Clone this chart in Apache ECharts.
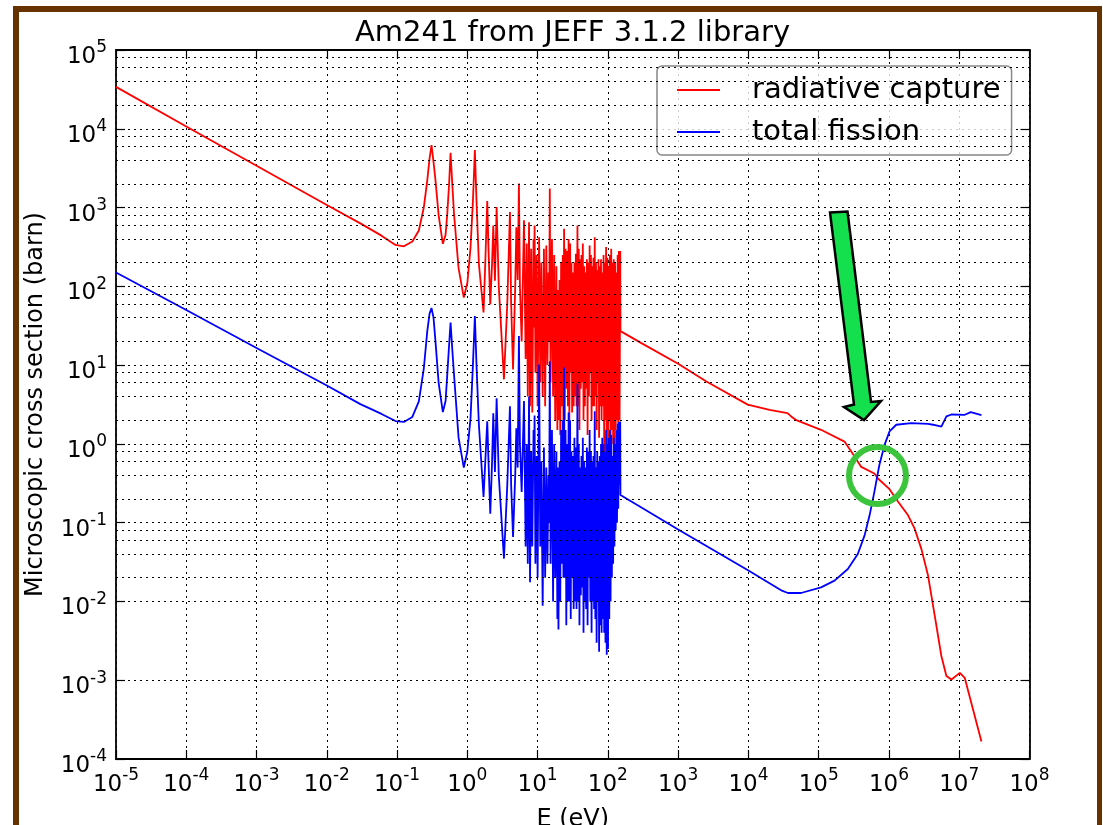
<!DOCTYPE html>
<html>
<head>
<meta charset="utf-8">
<title>Am241 from JEFF 3.1.2 library</title>
<script src="https://cdn.jsdelivr.net/npm/echarts@6/dist/echarts.min.js"></script>
<style>
    html, body { margin: 0; padding: 0; background: #fff; }
    #chart { width: 1103px; height: 825px; }
</style>
</head>
<body>
<div id="chart"></div>
<script>
// thermal region, energies in eV, shared by both reactions
var lowE = [1e-5, 1e-4, 1e-3, 1e-2, 0.03, 0.06, 0.095, 0.125, 0.165, 0.204, 0.24, 0.269, 0.29, 0.309, 0.33, 0.352,
    0.39, 0.448, 0.49, 0.518, 0.55, 0.577, 0.61, 0.646, 0.75, 0.89, 1.0, 1.11, 1.2, 1.28, 1.35, 1.46, 1.7, 1.8, 1.92,
    2.0, 2.12, 2.25, 2.34, 2.47, 2.61, 2.8, 3.32, 3.7, 4.04, 4.2, 4.47, 4.8, 4.98, 5.2, 5.42, 5.6, 5.93];
var captureLow = [34000, 10700, 3400, 1080, 630, 440, 335, 322, 370, 512, 1000, 2220, 4200, 6200, 3800, 2220,
    800, 347, 450, 835, 2000, 4970, 2000, 835, 170, 72, 110, 313, 1200, 5370, 1200, 192, 46.5, 200, 1210,
    300, 59, 200, 593, 118, 1015, 100, 6.6, 60, 877, 60, 8.8, 100, 564, 120, 2020, 100, 20];
var fissionLow = [150, 50, 16.5, 5.5, 3.2, 2.4, 1.95, 1.9, 2.2, 3.47, 9, 27, 45, 53, 40, 20,
    6, 2.53, 3.5, 7.6, 18, 34.6, 16, 7.6, 1.2, 0.5, 0.8, 2.12, 10, 42, 10, 1.75, 0.212, 0.6, 1.93,
    0.6, 0.13, 0.6, 2.45, 0.44, 3.8, 0.4, 0.035, 0.3, 3.0, 0.3, 0.066, 0.4, 1.58, 0.5, 23.4, 1.0, 0.246];

// resolved resonance region (dense), shared energies
var resE = [6.4, 6.75, 7.0, 7.25, 7.55, 7.8, 8.1, 8.4, 8.75, 8.9, 9.05, 9.3, 9.7, 10.0, 10.5, 10.9, 11.3, 11.8,
    12.3, 12.8, 13.3, 13.8, 14.3, 14.6, 14.9, 15.3, 16.0, 16.6, 17.2, 17.8, 18.5, 19.1, 19.5, 19.8, 20.5, 21.0,
    21.6, 22.2, 22.8, 23.3, 23.8, 24.3, 25.0, 25.6, 26.3, 27.0, 27.6, 28.3, 29.0, 29.6, 30.3, 31.0, 31.8, 32.6,
    33.4, 34.2, 35.0, 35.8, 36.9, 37.7, 38.5, 39.4, 40.3, 41.2, 42.1, 43.0, 44.0, 45.0, 46.0, 47.0, 48.0, 49.0,
    50.2, 51.4, 52.6, 53.8, 55.0, 56.2, 57.4, 58.6, 59.8, 61.0, 62.3, 63.6, 65.0, 66.3, 67.7, 69.1, 70.5, 72.0,
    73.5, 75.0, 76.6, 78.2, 79.8, 81.5, 83.2, 85.0, 86.8, 88.6, 90.5, 92.4, 94.3, 96.3, 98.3, 100.4, 102.5, 104.7,
    106.9, 109.2, 111.5, 113.9, 116.3, 118.8, 121.3, 123.9, 126.5, 129.2, 132.0, 134.8, 137.7, 140.6, 143.6, 146.7,
    149.8, 151];
var captureRes = [690, 12, 350, 4, 650, 3, 300, 2.5, 400, 30, 590, 8, 250, 3, 420, 6, 200, 4,
    300, 3, 330, 10, 150, 20, 1740, 6, 400, 4, 250, 2, 180, 1.5, 90, 2, 120, 1.3,
    200, 3, 250, 2, 540, 2, 300, 5, 280, 3, 400, 2, 350, 8, 200, 2.5, 150, 3,
    200, 4, 260, 3, 590, 3, 300, 1.5, 220, 5, 250, 6, 350, 2, 180, 3, 150, 5,
    220, 1.3, 200, 4, 330, 8, 250, 2, 180, 3, 230, 3, 420, 4, 200, 1.5, 160, 6,
    220, 1.2, 180, 3, 220, 2, 150, 3, 250, 0.8, 200, 2, 315, 1.5, 230, 1, 180, 2,
    250, 0.7, 300, 1.5, 200, 1, 220, 0.6, 200, 1.5, 150, 2, 250, 1.5, 280, 2,
    280, 27];
var fissionRes = [3.5, 0.05, 1.0, 0.03, 4.0, 0.0175, 0.8, 0.05, 1.5, 0.4, 2.3, 0.03, 0.7, 0.02, 10.2, 0.05, 0.6, 0.0088,
    0.9, 0.02, 0.5, 0.03, 0.4, 0.1, 11.2, 0.03, 1.5, 0.01, 1.0, 0.02, 0.8, 0.006, 0.5, 0.0044, 0.6, 0.01,
    1.5, 0.03, 2.0, 0.02, 9.3, 0.02, 1.5, 0.005, 1.0, 0.01, 2.5, 0.01, 2.0, 0.006, 0.8, 0.02, 0.7, 0.008,
    1.2, 0.01, 0.9, 0.008, 5.8, 0.01, 1.0, 0.005, 0.5, 0.012, 0.7, 0.015, 1.2, 0.004, 0.6, 0.01, 0.5, 0.008,
    0.9, 0.005, 0.8, 0.02, 1.5, 0.01, 0.8, 0.004, 0.6, 0.01, 0.7, 0.008, 2.6, 0.006, 0.5, 0.003, 0.8, 0.01,
    0.6, 0.0023, 0.7, 0.005, 1.0, 0.004, 1.2, 0.006, 1.0, 0.004, 0.8, 0.003, 1.5, 0.0021, 1.0, 0.0025, 1.2, 0.006,
    1.5, 0.01, 1.3, 0.02, 0.7, 0.03, 1.2, 0.05, 1.0, 0.08, 1.5, 0.1, 1.8, 0.15, 1.9, 0.3,
    1.93, 0.225];

// unresolved / fast region
var captureFastE = [300, 1000, 2490, 9770, 2.0e4, 3.6e4, 4.06e4, 4.7e4, 1.08e5, 2.33e5, 3.24e5, 4.03e5, 6.2e5, 6.97e5,
    1.0e6, 1.35e6, 1.87e6, 2.32e6, 2.89e6, 3.6e6, 4.48e6, 5.57e6, 6.57e6, 7.75e6, 1.02e7, 1.2e7, 1.49e7, 2.07e7];
var captureFastXS = [19, 10.4, 6.25, 3.15, 2.7, 2.46, 2.23, 2.02, 1.51, 1.07, 0.69, 0.51, 0.42, 0.364,
    0.271, 0.184, 0.124, 0.0838, 0.0465, 0.0213, 0.0066, 0.00203, 0.00113, 0.00102, 0.00124, 0.00107, 5.1e-4, 1.67e-4];
var fissionFastE = [300, 1000, 1e4, 3.0e4, 3.64e4, 3.8e4, 5.6e4, 1.08e5, 1.68e5, 2.6e5, 3.6e5, 4.5e5, 5.3e5, 6.2e5,
    7.3e5, 8.65e5, 1.02e6, 1.27e6, 2.08e6, 3.6e6, 4.24e6, 5.57e6, 6.57e6, 7.75e6, 1.2e7, 1.46e7, 2.07e7];
var fissionFastXS = [0.156, 0.082, 0.0247, 0.0137, 0.0128, 0.0132, 0.0128, 0.0151, 0.0184, 0.0258, 0.040, 0.069, 0.124, 0.246,
    0.54, 0.97, 1.44, 1.75, 1.83, 1.79, 1.75, 1.66, 2.23, 2.36, 2.34, 2.53, 2.32];

// axis decades and minor grid sub-ticks
var xExponents = [-5, -4, -3, -2, -1, 0, 1, 2, 3, 4, 5, 6, 7, 8];
var yExponents = [-4, -3, -2, -1, 0, 1, 2, 3, 4, 5];
var yMinorSubs = [2, 4, 6, 8];

var FONT = 'DejaVu Sans';

function zip(xs, ys) {
    return xs.map(function (x, i) { return [x, ys[i]]; });
}

var capturePts = zip(lowE, captureLow).concat(zip(resE, captureRes), zip(captureFastE, captureFastXS));
var fissionPts = zip(lowE, fissionLow).concat(zip(resE, fissionRes), zip(fissionFastE, fissionFastXS));

// minor horizontal grid lines (2,4,6,8 x 10^n)
var minorLines = [];
yExponents.slice(0, -1).forEach(function (e) {
    yMinorSubs.forEach(function (m) {
        minorLines.push({yAxis: m * Math.pow(10, e)});
    });
});

function powLabel(v) {
    var e = Math.round(Math.log(v) / Math.LN10);
    return '{b|10}{s|' + e + '}';
}

// superscript: exponent raised with bottom padding, both tokens centred
var labelRich = {
    b: {fontFamily: FONT, fontSize: 23, lineHeight: 36, verticalAlign: 'middle', color: '#000'},
    s: {fontFamily: FONT, fontSize: 17, lineHeight: 18, padding: [0, 0, 18, 0], verticalAlign: 'middle', color: '#000'}
};

var gridDots = {color: '#000', width: 1, type: [2, 4]};
var frameLine = {show: true, lineStyle: {color: '#000', width: 1.8}};
var majorTick = {show: true, inside: true, length: 9, lineStyle: {color: '#000', width: 1.2}};

var chart = echarts.init(document.getElementById('chart'));
chart.setOption({
    animation: false,
    backgroundColor: '#fff',
    textStyle: {fontFamily: FONT},
    title: {
        text: 'Am241 from JEFF 3.1.2 library',
        left: 572.5,
        textAlign: 'center',
        top: 19,
        padding: 0,
        textStyle: {fontFamily: FONT, fontSize: 29, fontWeight: 'normal', color: '#000'}
    },
    legend: {
        orient: 'vertical',
        left: 657,
        top: 66,
        padding: [9, 11, 8, 20],
        itemGap: 12,
        itemWidth: 43,
        itemHeight: 2,
        icon: 'rect',
        backgroundColor: 'rgba(255,255,255,0.8)',
        borderColor: '#888',
        borderWidth: 1.5,
        borderRadius: 5,
        textStyle: {fontFamily: FONT, fontSize: 29, lineHeight: 30, color: '#000', padding: [0, 0, 0, 27]},
        data: ['radiative capture', 'total fission']
    },
    grid: {left: 116, right: 73.5, top: 50, bottom: 66, containLabel: false, outerBoundsMode: 'none'},
    xAxis: [{
        type: 'log', logBase: 10,
        min: Math.pow(10, xExponents[0]), max: Math.pow(10, xExponents[xExponents.length - 1]),
        interval: 1,
        position: 'bottom',
        axisLine: frameLine,
        axisTick: majorTick,
        axisLabel: {margin: 8, formatter: powLabel, rich: labelRich, hideOverlap: false, showMinLabel: true, showMaxLabel: true},
        splitLine: {show: true, lineStyle: gridDots},
        name: 'E (eV)',
        nameLocation: 'middle',
        nameGap: 47,
        nameTextStyle: {fontFamily: FONT, fontSize: 24, color: '#000'}
    }, {
        type: 'log', logBase: 10,
        min: Math.pow(10, xExponents[0]), max: Math.pow(10, xExponents[xExponents.length - 1]),
        interval: 1,
        position: 'top',
        axisLine: frameLine,
        axisTick: majorTick,
        axisLabel: {show: false},
        splitLine: {show: false}
    }],
    yAxis: [{
        type: 'log', logBase: 10,
        min: Math.pow(10, yExponents[0]), max: Math.pow(10, yExponents[yExponents.length - 1]),
        interval: 1,
        position: 'left',
        axisLine: frameLine,
        axisTick: majorTick,
        axisLabel: {margin: 9, padding: [14, 0, 0, 0], formatter: powLabel, rich: labelRich, hideOverlap: false, showMinLabel: true, showMaxLabel: true},
        splitLine: {show: true, lineStyle: gridDots},
        name: 'Microscopic cross section (barn)',
        nameLocation: 'middle',
        nameGap: 68,
        nameTextStyle: {fontFamily: FONT, fontSize: 24, color: '#000'}
    }, {
        type: 'log', logBase: 10,
        min: Math.pow(10, yExponents[0]), max: Math.pow(10, yExponents[yExponents.length - 1]),
        interval: 1,
        position: 'right',
        axisLine: frameLine,
        axisTick: majorTick,
        axisLabel: {show: false},
        splitLine: {show: false}
    }],
    series: [{
        name: 'minor grid',
        type: 'line',
        data: [],
        z: 1,
        silent: true,
        markLine: {
            silent: true,
            symbol: ['none', 'none'],
            label: {show: false},
            lineStyle: gridDots,
            data: minorLines
        }
    }, {
        name: 'radiative capture',
        type: 'line',
        data: capturePts,
        showSymbol: false,
        symbol: 'none',
        z: 3,
        lineStyle: {color: '#ff0000', width: 1.8},
        itemStyle: {color: '#ff0000'}
    }, {
        name: 'total fission',
        type: 'line',
        data: fissionPts,
        showSymbol: false,
        symbol: 'none',
        z: 4,
        lineStyle: {color: '#0000ff', width: 1.8},
        itemStyle: {color: '#0000ff'}
    }],
    graphic: [
        // brown slide frame
        {type: 'rect', z: 100, silent: true, shape: {x: 13, y: 6, width: 6, height: 819}, style: {fill: '#663300'}},
        {type: 'rect', z: 100, silent: true, shape: {x: 13, y: 6, width: 1089, height: 6}, style: {fill: '#663300'}},
        {type: 'rect', z: 100, silent: true, shape: {x: 1097, y: 6, width: 5, height: 819}, style: {fill: '#663300'}},
        // green arrow and circle annotation
        {type: 'polygon', z: 100, silent: true,
            shape: {points: [[830, 212.5], [847.5, 211.5], [871, 402], [881, 401], [864, 420], [844, 407], [854, 404.5]]},
            style: {fill: '#14e04e', stroke: '#000', lineWidth: 2.5, lineJoin: 'miter'}},
        {type: 'circle', z: 100, silent: true,
            shape: {cx: 877.5, cy: 475.5, r: 28.5},
            style: {fill: 'none', stroke: '#3cc43c', lineWidth: 6}}
    ]
});
</script>
</body>
</html>
